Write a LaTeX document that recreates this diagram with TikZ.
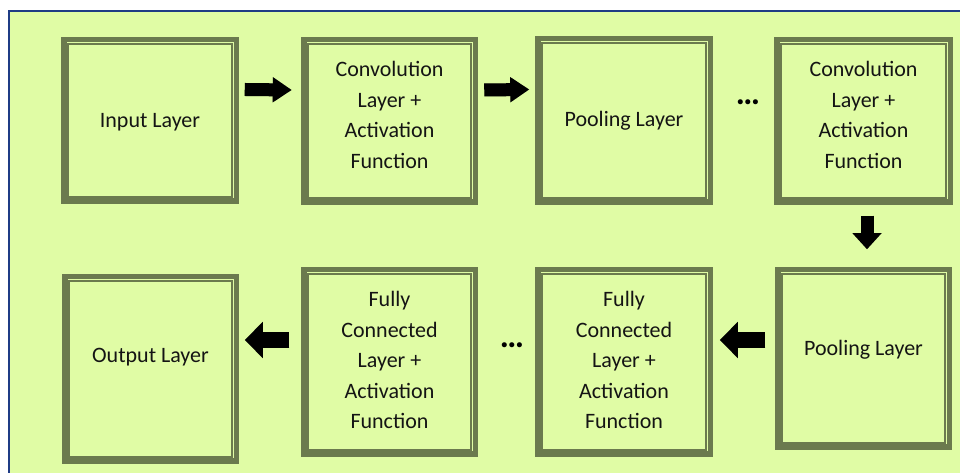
\documentclass[tikz,border=0pt]{standalone}
\usepackage{fontspec}
\setmainfont{Carlito}
\usetikzlibrary{calc,arrows.meta}
\definecolor{bgreen}{HTML}{E0FCA5}
\definecolor{olivec}{HTML}{6B7A4E}
\definecolor{frameblue}{HTML}{1F3C85}
\definecolor{shadowc}{HTML}{8E9C6A}
\definecolor{textc}{HTML}{141414}
\tikzset{
  layerbox/.style={draw=olivec, line width=5.5pt, fill=none, inner sep=0pt},
  innerline/.style={draw=olivec, line width=1.5pt},
  txt/.style={font=\fontsize{22}{30.5}\selectfont, text=textc, align=center, inner sep=0pt},
  dotstxt/.style={font=\fontsize{34}{36}\selectfont\bfseries, text=black, inner sep=0pt},
  blockarrow/.style args={#1/#2/#3}{draw=black, line width=#1, -{Triangle[width=#2,length=#3]}},
  arrowshadow/.style args={#1/#2/#3}{draw=shadowc, opacity=0.6, line width=#1, -{Triangle[width=#2,length=#3]}, xshift=1.5pt, yshift=-1.5pt}
}
\begin{document}
\begin{tikzpicture}[x=1pt,y=1pt]
\useasboundingbox (0,0) rectangle (960,473);
\fill[white] (0,0) rectangle (960,473);
\fill[frameblue] (8,0) rectangle (960,463);
\fill[bgreen] (10,0) rectangle (960,461);

% top row
\node[layerbox, minimum width=172.5pt, minimum height=161.5pt] (b1) at (150,352.5) {};
\node[layerbox, minimum width=171.5pt, minimum height=162.5pt] (b2) at (389.5,352) {};
\node[layerbox, minimum width=172.5pt, minimum height=163.5pt] (b3) at (624,352.5) {};
\node[layerbox, minimum width=173.5pt, minimum height=162.5pt] (b4) at (863.5,352) {};
% bottom row
\node[layerbox, minimum width=171.5pt, minimum height=184.5pt] (b5) at (150.5,104) {};
\node[layerbox, minimum width=171.5pt, minimum height=184.5pt] (b6) at (389.5,111) {};
\node[layerbox, minimum width=172.5pt, minimum height=184.5pt] (b7) at (624,111) {};
\node[layerbox, minimum width=171.5pt, minimum height=177.5pt] (b8) at (863.5,114.5) {};

\foreach \bx in {b1,b2,b3,b4,b5,b6,b7,b8}
  \draw[innerline] ($(\bx.north west)+(7.2,-7.2)$) rectangle ($(\bx.south east)+(-7.2,7.2)$);

% texts
\node[txt] (t1) at ($(b1)+(0,-1.5)$) {Input Layer};
\node[txt] (t2) at ($(b2)+(0,6)$) {Convolution\\Layer +\\Activation\\Function};
\node[txt] (t3) at ($(b3)+(0,-0.5)$) {Pooling Layer};
\node[txt] (t4) at ($(b4)+(0,6)$) {Convolution\\Layer +\\Activation\\Function};
\node[txt] (t5) at ($(b5)+(0,12)$) {Output Layer};
\node[txt] (t6) at ($(b6)+(0,2)$) {Fully\\Connected\\Layer +\\Activation\\Function};
\node[txt] (t7) at ($(b7)+(0,2)$) {Fully\\Connected\\Layer +\\Activation\\Function};
\node[txt] (t8) at ($(b8)+(0,8.5)$) {Pooling Layer};

% ellipses
\node[dotstxt] (d1) at (748,371) {…};
\node[dotstxt] (d2) at (512,128) {…};

% arrows: shadows
\draw[arrowshadow=13pt/24pt/19pt] ($(b1.east)+(5.75,31)$) -- ($(b2.west)+(-9.25,31)$);
\draw[arrowshadow=13pt/24pt/19pt] ($(b2.east)+(6.25,31)$) -- ($(b3.west)+(-5.75,31)$);
\draw[arrowshadow=13pt/28pt/16pt] ($(b4.south)+(3.5,-10.75)$) -- ($(b8.north)+(3.5,17.75)$);
\draw[arrowshadow=16pt/35pt/18pt] ($(b8.west)+(-9.75,18.5)$) -- ($(b7.east)+(6.75,22)$);
\draw[arrowshadow=16pt/35pt/18pt] ($(b6.west)+(-11.75,22)$) -- ($(b5.east)+(5.75,29)$);
% arrows
\draw[blockarrow=13pt/24pt/19pt] ($(b1.east)+(5.75,31)$) -- ($(b2.west)+(-9.25,31)$);
\draw[blockarrow=13pt/24pt/19pt] ($(b2.east)+(6.25,31)$) -- ($(b3.west)+(-5.75,31)$);
\draw[blockarrow=13pt/28pt/16pt] ($(b4.south)+(3.5,-10.75)$) -- ($(b8.north)+(3.5,17.75)$);
\draw[blockarrow=16pt/35pt/18pt] ($(b8.west)+(-9.75,18.5)$) -- ($(b7.east)+(6.75,22)$);
\draw[blockarrow=16pt/35pt/18pt] ($(b6.west)+(-11.75,22)$) -- ($(b5.east)+(5.75,29)$);
\end{tikzpicture}
\end{document}
